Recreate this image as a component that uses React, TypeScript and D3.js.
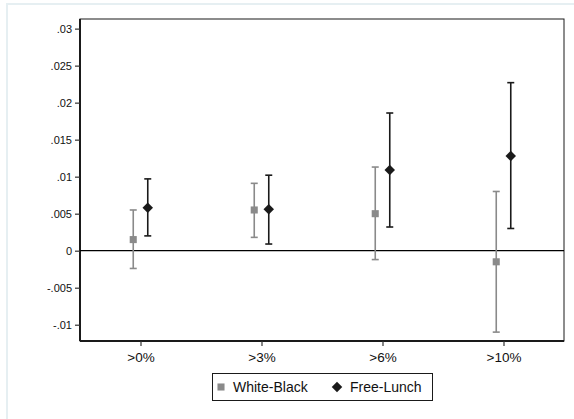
import React, { useEffect, useRef } from "react";
import * as d3 from "d3";

// categories and estimates with 95% CI bounds
const categories = [">0%", ">3%", ">6%", ">10%"];
const wbEst = [0.0015, 0.0055, 0.005, -0.0015];
const wbLo = [-0.0024, 0.0018, -0.0012, -0.011];
const wbHi = [0.0055, 0.0091, 0.0113, 0.008];
const flEst = [0.0058, 0.0056, 0.0109, 0.0128];
const flLo = [0.002, 0.0009, 0.0032, 0.003];
const flHi = [0.0097, 0.0102, 0.0186, 0.0227];
const yTicks = [-0.01, -0.005, 0, 0.005, 0.01, 0.015, 0.02, 0.025, 0.03];

const W = 574,
  H = 419;
const plot = { left: 80, right: 564, top: 19, bottom: 341 };

interface Pt {
  i: number;
  est: number;
  lo: number;
  hi: number;
}

const fmt = (v: number) => {
  if (v === 0) return "0";
  const s = String(+v.toFixed(4));
  return s.replace("0.", ".");
};

export default function App() {
  const ref = useRef<SVGGElement>(null);

  useEffect(() => {
    const svg = d3.select(ref.current);
    svg.selectAll("*").remove();

    const x = d3.scaleLinear().domain([0.5, 4.5]).range([plot.left, plot.right]);
    const y = d3.scaleLinear().domain([-0.0122, 0.0313]).range([plot.bottom, plot.top]);

    // outer frame
    svg
      .append("rect")
      .attr("x", 7)
      .attr("y", 4)
      .attr("width", W)
      .attr("height", H)
      .attr("fill", "#fff")
      .attr("stroke", "#e6eff2")
      .attr("stroke-width", 2);

    // plot region
    svg
      .append("rect")
      .attr("x", plot.left)
      .attr("y", plot.top)
      .attr("width", plot.right - plot.left)
      .attr("height", plot.bottom - plot.top)
      .attr("fill", "#fff")
      .attr("stroke", "#1a1a1a")
      .attr("stroke-width", 1);

    // y axis
    const yAxis = svg
      .append("g")
      .attr("transform", `translate(${plot.left},0)`)
      .call(
        d3
          .axisLeft(y)
          .tickValues(yTicks)
          .tickFormat((d) => fmt(d as number))
          .tickSize(5)
          .tickPadding(3)
      );
    yAxis.select(".domain").attr("stroke", "#1a1a1a").attr("stroke-width", 2).attr("d", `M0,${plot.top}V${plot.bottom}`);
    yAxis.selectAll(".tick line").attr("stroke", "#333").attr("stroke-width", 1.2);
    yAxis
      .selectAll(".tick text")
      .attr("fill", "#111")
      .style("font-family", "'Liberation Sans', Arial, sans-serif")
      .style("font-size", "11px");

    // x axis
    const xAxis = svg
      .append("g")
      .attr("transform", `translate(0,${plot.bottom})`)
      .call(
        d3
          .axisBottom(x)
          .tickValues([1, 2, 3, 4])
          .tickFormat((d) => categories[(d as number) - 1])
          .tickSize(5)
          .tickPadding(6)
      );
    xAxis.select(".domain").attr("stroke", "#1a1a1a").attr("stroke-width", 2).attr("d", `M${plot.left},0H${plot.right}`);
    xAxis.selectAll(".tick line").attr("stroke", "#333").attr("stroke-width", 1.2);
    xAxis
      .selectAll(".tick text")
      .attr("fill", "#111")
      .style("font-family", "'Liberation Sans', Arial, sans-serif")
      .style("font-size", "13.5px");

    // zero line
    svg
      .append("line")
      .attr("x1", plot.left)
      .attr("x2", plot.right)
      .attr("y1", y(0))
      .attr("y2", y(0))
      .attr("stroke", "#000")
      .attr("stroke-width", 1.3);

    const series = [
      {
        pts: categories.map((_, i) => ({ i, est: wbEst[i], lo: wbLo[i], hi: wbHi[i] })),
        off: -0.06,
        color: "#8a8a8a",
        shape: d3.symbolSquare,
        size: 50,
      },
      {
        pts: categories.map((_, i) => ({ i, est: flEst[i], lo: flLo[i], hi: flHi[i] })),
        off: 0.06,
        color: "#1a1a1a",
        shape: d3.symbolDiamond2,
        size: 70,
      },
    ];

    series.forEach((s) => {
      const g = svg.append("g");
      const cx = (d: Pt) => x(d.i + 1 + s.off);
      g.selectAll("line.bar")
        .data(s.pts)
        .enter()
        .append("line")
        .attr("x1", cx)
        .attr("x2", cx)
        .attr("y1", (d) => y(d.lo))
        .attr("y2", (d) => y(d.hi))
        .attr("stroke", s.color)
        .attr("stroke-width", 1.6);
      ["lo", "hi"].forEach((k) => {
        g.selectAll("line.cap" + k)
          .data(s.pts)
          .enter()
          .append("line")
          .attr("x1", (d) => cx(d) - 3.5)
          .attr("x2", (d) => cx(d) + 3.5)
          .attr("y1", (d) => y((d as any)[k]))
          .attr("y2", (d) => y((d as any)[k]))
          .attr("stroke", s.color)
          .attr("stroke-width", 1.6);
      });
      g.selectAll("path.mk")
        .data(s.pts)
        .enter()
        .append("path")
        .attr("d", d3.symbol().type(s.shape).size(s.size)())
        .attr("transform", (d) => `translate(${cx(d)},${y(d.est)})`)
        .attr("fill", s.color);
    });

    // legend
    const lg = svg.append("g");
    lg.append("rect")
      .attr("x", 212.5)
      .attr("y", 373.5)
      .attr("width", 220)
      .attr("height", 27)
      .attr("fill", "#fff")
      .attr("stroke", "#1a1a1a")
      .attr("stroke-width", 1);
    const items = [
      { label: "White-Black", mx: 221, tx: 233, s: series[0] },
      { label: "Free-Lunch", mx: 337, tx: 350, s: series[1] },
    ];
    items.forEach((it) => {
      lg.append("path")
        .attr("d", d3.symbol().type(it.s.shape).size(it.s.size)())
        .attr("transform", `translate(${it.mx},387)`)
        .attr("fill", it.s.color);
      lg.append("text")
        .attr("x", it.tx)
        .attr("y", 392)
        .attr("fill", "#111")
        .style("font-family", "'Liberation Sans', Arial, sans-serif")
        .style("font-size", "14px")
        .text(it.label);
    });
  }, []);

  return (
    <svg width={W} height={H} style={{ position: "absolute", left: 0, top: 0, background: "#fff" }}>
      <g ref={ref} />
    </svg>
  );
}
